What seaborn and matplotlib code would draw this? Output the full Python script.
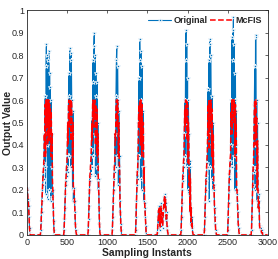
import numpy as np
import pandas as pd
import seaborn as sns
import matplotlib.pyplot as plt

# sample grid (every 5th instant)
step = 5
n_samples = 3000

# bursts: start instant, original values, McFIS values
start0 = 0
orig0 = [0.14, 0.21, 0.20, 0.15, 0.16, 0.13, 0.08, 0.03, 0.01, 0.0]
mcfis0 = [0.20, 0.21, 0.20, 0.16, 0.15, 0.12, 0.07, 0.03, 0.01, 0.0]

start1 = 175
orig1 = [0.02, 0.06, 0.10, 0.15, 0.20, 0.22, 0.28, 0.25, 0.32,
         0.45, 0.30, 0.62, 0.18, 0.75, 0.85, 0.40, 0.80, 0.16, 0.78, 0.55, 0.82, 0.20, 0.72,
         0.50, 0.66, 0.15, 0.60, 0.30, 0.45, 0.17,
         0.20, 0.12, 0.06, 0.02, 0.0]
mcfis1 = [0.02, 0.06, 0.10, 0.15, 0.20, 0.24, 0.28, 0.30, 0.34,
          0.45, 0.40, 0.58, 0.35, 0.60, 0.60, 0.50, 0.60, 0.40, 0.60, 0.55, 0.60, 0.42, 0.58,
          0.50, 0.56, 0.35, 0.55, 0.38, 0.45, 0.25,
          0.20, 0.12, 0.06, 0.02, 0.0]

start2 = 465
orig2 = [0.02, 0.07, 0.12, 0.18, 0.24, 0.22, 0.30, 0.26, 0.36,
         0.50, 0.28, 0.62, 0.72, 0.35, 0.83, 0.55, 0.78, 0.30, 0.81, 0.60, 0.45, 0.20, 0.55, 0.15,
         0.20, 0.21, 0.15, 0.10, 0.05, 0.02, 0.01, 0.0]
mcfis2 = [0.02, 0.07, 0.12, 0.18, 0.24, 0.26, 0.30, 0.32, 0.38,
          0.50, 0.40, 0.58, 0.60, 0.48, 0.60, 0.55, 0.60, 0.42, 0.60, 0.57, 0.48, 0.30, 0.50, 0.22,
          0.20, 0.20, 0.15, 0.10, 0.05, 0.02, 0.01, 0.0]

start3 = 765
orig3 = [0.02, 0.07, 0.13, 0.20, 0.26, 0.24, 0.30, 0.27, 0.38,
         0.52, 0.30, 0.68, 0.78, 0.35, 0.84, 0.90, 0.45, 0.80, 0.26, 0.72, 0.62, 0.25, 0.68,
         0.30, 0.50, 0.20,
         0.25, 0.12, 0.05, 0.01, 0.0]
mcfis3 = [0.02, 0.07, 0.13, 0.20, 0.26, 0.28, 0.32, 0.34, 0.40,
          0.50, 0.42, 0.58, 0.60, 0.48, 0.60, 0.60, 0.52, 0.60, 0.40, 0.58, 0.55, 0.36, 0.56,
          0.35, 0.45, 0.25,
          0.22, 0.12, 0.05, 0.01, 0.0]

start4 = 1065
orig4 = [0.02, 0.08, 0.14, 0.20, 0.25, 0.30, 0.28,
         0.45, 0.30, 0.62, 0.78, 0.84, 0.35, 0.75, 0.60, 0.22, 0.55, 0.30,
         0.35, 0.15, 0.10, 0.05, 0.02, 0.0]
mcfis4 = [0.02, 0.08, 0.14, 0.20, 0.25, 0.30, 0.33,
          0.45, 0.42, 0.56, 0.60, 0.60, 0.48, 0.60, 0.56, 0.35, 0.50, 0.32,
          0.30, 0.15, 0.10, 0.05, 0.02, 0.0]

start5 = 1355
orig5 = [0.02, 0.08, 0.15, 0.22, 0.28, 0.25, 0.35,
         0.50, 0.70, 0.35, 0.87, 0.78, 0.25, 0.82, 0.60, 0.20, 0.75, 0.45, 0.30, 0.55, 0.15,
         0.30, 0.14, 0.12, 0.08, 0.04, 0.01, 0.0]
mcfis5 = [0.02, 0.08, 0.15, 0.22, 0.28, 0.30, 0.36,
          0.50, 0.58, 0.48, 0.60, 0.60, 0.40, 0.60, 0.57, 0.35, 0.58, 0.45, 0.38, 0.50, 0.25,
          0.30, 0.15, 0.12, 0.08, 0.04, 0.01, 0.0]

start6 = 1625
orig6 = [0.01, 0.04, 0.08, 0.12, 0.05, 0.13, 0.07, 0.02, 0.10, 0.14, 0.04, 0.11, 0.06, 0.03,
         0.09, 0.12, 0.15, 0.17, 0.18, 0.10, 0.17, 0.14, 0.06, 0.10, 0.04, 0.02, 0.01, 0.0]
mcfis6 = [0.01, 0.04, 0.08, 0.11, 0.06, 0.12, 0.08, 0.03, 0.10, 0.13, 0.05, 0.10, 0.07, 0.04,
          0.08, 0.11, 0.14, 0.16, 0.17, 0.12, 0.16, 0.13, 0.07, 0.09, 0.04, 0.02, 0.01, 0.0]

start7 = 1920
orig7 = [0.02, 0.08, 0.14, 0.20, 0.26, 0.24, 0.32, 0.30,
         0.45, 0.60, 0.35, 0.78, 0.91, 0.50, 0.85, 0.30, 0.70, 0.20, 0.60, 0.45, 0.18,
         0.30, 0.10, 0.33, 0.05, 0.12, 0.04, 0.08, 0.03, 0.01, 0.0]
mcfis7 = [0.02, 0.08, 0.14, 0.20, 0.26, 0.28, 0.33, 0.35,
          0.45, 0.56, 0.48, 0.60, 0.60, 0.52, 0.60, 0.42, 0.58, 0.32, 0.50, 0.42, 0.22,
          0.28, 0.10, 0.25, 0.06, 0.12, 0.04, 0.06, 0.02, 0.01, 0.0]

start8 = 2210
orig8 = [0.02, 0.08, 0.14, 0.20, 0.26, 0.24, 0.32, 0.30,
         0.45, 0.65, 0.30, 0.78, 0.15, 0.85, 0.87, 0.30, 0.80, 0.55, 0.25, 0.62, 0.40, 0.20, 0.50,
         0.20, 0.22, 0.12, 0.08, 0.05, 0.02, 0.01, 0.0]
mcfis8 = [0.02, 0.08, 0.14, 0.20, 0.26, 0.28, 0.33, 0.36,
          0.45, 0.58, 0.45, 0.60, 0.38, 0.60, 0.60, 0.48, 0.60, 0.55, 0.35, 0.56, 0.45, 0.30, 0.45,
          0.22, 0.20, 0.12, 0.08, 0.05, 0.02, 0.01, 0.0]

start9 = 2500
orig9 = [0.02, 0.08, 0.14, 0.20, 0.27, 0.25, 0.33, 0.30,
         0.60, 0.40, 0.88, 0.30, 0.91, 0.78, 0.97, 0.35, 0.85, 0.60, 0.20, 0.72, 0.40, 0.55,
         0.18, 0.20, 0.15, 0.10, 0.05, 0.03, 0.01, 0.0]
mcfis9 = [0.02, 0.08, 0.14, 0.20, 0.27, 0.30, 0.34, 0.36,
          0.55, 0.50, 0.60, 0.45, 0.60, 0.60, 0.60, 0.50, 0.60, 0.56, 0.35, 0.58, 0.46, 0.50,
          0.20, 0.20, 0.15, 0.10, 0.05, 0.03, 0.01, 0.0]

start10 = 2795
orig10 = [0.02, 0.08, 0.15, 0.22, 0.30, 0.28, 0.40,
          0.58, 0.75, 0.20, 0.88, 0.89, 0.30, 0.60, 0.15, 0.50, 0.20,
          0.12, 0.18, 0.15, 0.04, 0.03, 0.03, 0.02, 0.03, 0.02, 0.01, 0.01, 0.01, 0.0, 0.0]
mcfis10 = [0.02, 0.08, 0.15, 0.22, 0.30, 0.32, 0.42,
           0.55, 0.60, 0.40, 0.60, 0.60, 0.45, 0.52, 0.20, 0.42, 0.22,
           0.12, 0.15, 0.12, 0.04, 0.03, 0.02, 0.02, 0.02, 0.01, 0.01, 0.01, 0.0, 0.0, 0.0]

bursts = [
    (start0, orig0, mcfis0), (start1, orig1, mcfis1), (start2, orig2, mcfis2),
    (start3, orig3, mcfis3), (start4, orig4, mcfis4), (start5, orig5, mcfis5),
    (start6, orig6, mcfis6), (start7, orig7, mcfis7), (start8, orig8, mcfis8),
    (start9, orig9, mcfis9), (start10, orig10, mcfis10),
]

x = np.arange(0, n_samples, step)
original = np.zeros(len(x))
mcfis = np.zeros(len(x))
for s, o, m in bursts:
    i = s // step
    original[i:i + len(o)] = o
    mcfis[i:i + len(m)] = m

df = pd.DataFrame({'t': x, 'Original': original, 'McFIS': mcfis})

sns.set_theme(style='white')
plt.rcParams['font.family'] = ['Liberation Sans', 'DejaVu Sans']

fig = plt.figure(figsize=(2.78, 2.59), dpi=100)
ax = fig.add_axes([0.096, 0.093, 0.868, 0.868])

sns.lineplot(data=df, x='t', y='Original', ax=ax, color='#0072BD', linewidth=0.8,
             marker='*', markersize=3.5, markeredgewidth=0.5, label='Original')
sns.lineplot(data=df, x='t', y='McFIS', ax=ax, color='red', linewidth=1.1,
             linestyle='--', dashes=(2.6, 1.8), label='McFIS')

ax.set_xlim(0, 3000)
ax.set_ylim(0, 1)
ax.set_xticks(np.arange(0, 3001, 500))
ax.set_yticks(np.arange(0, 1.01, 0.1))
ax.set_yticklabels(['0', '0.1', '0.2', '0.3', '0.4', '0.5', '0.6', '0.7', '0.8', '0.9', '1'])
ax.tick_params(direction='in', length=2.5, width=0.5, labelsize=6.5, pad=2, colors='#262626',
               top=True, right=True)
for sp in ax.spines.values():
    sp.set_linewidth(0.6)
    sp.set_color('#262626')
ax.set_xlabel('Sampling Instants', fontsize=7.5, fontweight='bold', labelpad=1)
ax.set_ylabel('Output Value', fontsize=7.5, fontweight='bold')
ax.yaxis.set_label_coords(-0.058, 0.5)

ax.legend(loc='upper right', ncol=2, frameon=False, handlelength=2.6,
          columnspacing=0.3, handletextpad=0.2, borderaxespad=0.3,
          prop={'weight': 'bold', 'size': 6.5})

fig.savefig('out.png', dpi=100)
